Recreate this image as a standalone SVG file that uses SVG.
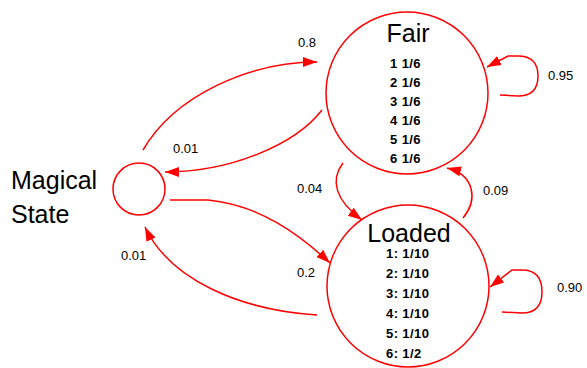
<svg xmlns="http://www.w3.org/2000/svg" width="587" height="368" viewBox="0 0 587 368">
<style>
.st{fill:none;stroke:#ff0000;stroke-width:1.5}
.ed{fill:none;stroke:#ff0000;stroke-width:1.5}
.t{font-family:"Liberation Sans",Arial,sans-serif;fill:#000}
.big{font-size:25px}
.mid{font-size:25px}
.row{font-size:13px;font-weight:bold;letter-spacing:0.4px}
.lb{font-size:13px}
</style>
<defs>
<marker id="ah" markerUnits="userSpaceOnUse" markerWidth="16" markerHeight="12" refX="14" refY="5" orient="auto" viewBox="0 0 16 10">
<path d="M0,0 L14,5 L0,10 Z" fill="#ff0000"/>
</marker>
</defs>
<rect width="587" height="368" fill="#fff"/>
<g id="magical">
<circle class="st" cx="139" cy="189" r="26"/>
<text class="t mid" x="11" y="189">Magical</text>
<text class="t mid" x="11" y="223">State</text>
</g>
<g id="fair">
<circle class="st" cx="407" cy="93" r="81"/>
<text class="t big" x="408" y="42" text-anchor="middle">Fair</text>
<text class="t row" x="390" y="68">1 1/6</text>
<text class="t row" x="390" y="87">2 1/6</text>
<text class="t row" x="390" y="106">3 1/6</text>
<text class="t row" x="390" y="125">4 1/6</text>
<text class="t row" x="390" y="144">5 1/6</text>
<text class="t row" x="390" y="163">6 1/6</text>
</g>
<g id="loaded">
<circle class="st" cx="408" cy="286" r="81"/>
<text class="t big" x="409" y="242" text-anchor="middle">Loaded</text>
<text class="t row" x="386" y="258">1: 1/10</text>
<text class="t row" x="386" y="278">2: 1/10</text>
<text class="t row" x="386" y="298">3: 1/10</text>
<text class="t row" x="386" y="318">4: 1/10</text>
<text class="t row" x="386" y="338">5: 1/10</text>
<text class="t row" x="386" y="358">6: 1/2</text>
</g>
<g id="connectors">
<path class="ed" marker-end="url(#ah)" d="M143,150 C175,95 250,62 317,62"/>
<path class="ed" marker-end="url(#ah)" d="M322,110 C295,145 230,172 165,172"/>
<path class="ed" marker-end="url(#ah)" d="M170,200 L208,200 C260,205 300,235 330,263"/>
<path class="ed" marker-end="url(#ah)" d="M317,315 C240,310 170,280 145,227"/>
<path class="ed" marker-end="url(#ah)" d="M343,163 C330,180 335,200 362,220"/>
<path class="ed" marker-end="url(#ah)" d="M463,218 C478,200 475,175 447,168"/>
<path class="ed" marker-end="url(#ah)" d="M500,95 L518,96 Q538,96 538,76 Q538,56 518,56 L508,56 L487,67"/>
<path class="ed" marker-end="url(#ah)" d="M502,312 L522,313 Q542,313 542,292 Q542,270 522,270 L512,270 L490,287"/>
<text class="t lb" x="298" y="47">0.8</text>
<text class="t lb" x="173" y="153">0.01</text>
<text class="t lb" x="297" y="277">0.2</text>
<text class="t lb" x="121" y="260">0.01</text>
<text class="t lb" x="297" y="193">0.04</text>
<text class="t lb" x="483" y="195">0.09</text>
<text class="t lb" x="548" y="80">0.95</text>
<text class="t lb" x="557" y="292">0.90</text>
</g>
</svg>
